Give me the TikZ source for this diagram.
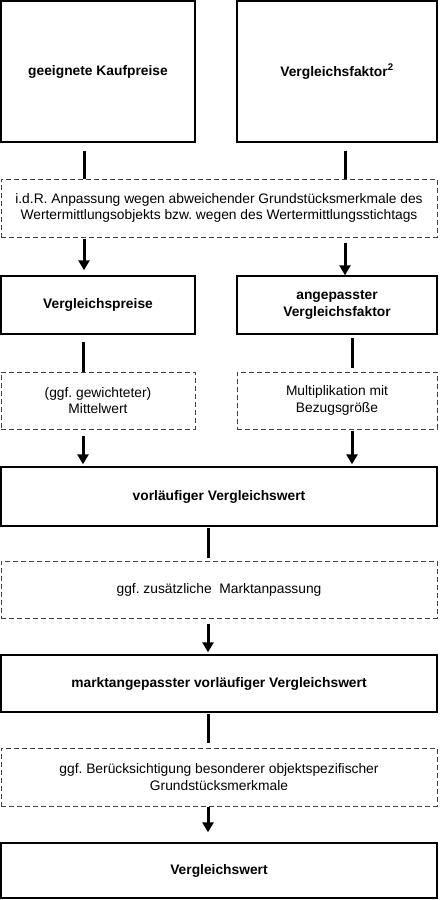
\documentclass[tikz,border=0pt]{standalone}
\usepackage{fontspec}
\setmainfont{Liberation Sans}
\usetikzlibrary{arrows.meta}
\begin{document}
\frenchspacing
\begin{tikzpicture}[x=1pt,y=-1pt,
  solidbox/.style={draw=black,line width=1.4pt,rectangle,inner sep=0pt,align=center,
    font=\fontsize{13.8}{16.5}\selectfont\bfseries},
  dashbox/.style={draw=black!75,line width=1pt,dash pattern=on 5pt off 3pt,rectangle,inner sep=0pt,align=center,
    font=\fontsize{13.8}{16.5}\selectfont},
  thickline/.style={line width=3pt},
  thickarrow/.style={line width=3pt,-{Triangle[width=11pt,length=10pt]}}]
\useasboundingbox (0,0) rectangle (442,900);
\node[solidbox,minimum width=194pt,minimum height=141pt] (A) at (98,71.5) {geeignete Kaufpreise};
\node[solidbox,minimum width=200pt,minimum height=141pt] (B) at (337,71.5) {Vergleichsfaktor\textsuperscript{2}};
\node[dashbox,minimum width=436pt,minimum height=58pt] (D1) at (219,208) {i.d.R. Anpassung wegen abweichender Grundstücksmerkmale des\\Wertermittlungsobjekts bzw. wegen des Wertermittlungsstichtags};
\node[solidbox,minimum width=194pt,minimum height=58pt] (C) at (98,305) {Vergleichspreise};
\node[solidbox,minimum width=200pt,minimum height=58pt] (E) at (337,305) {angepasster\\Vergleichsfaktor};
\node[dashbox,minimum width=194pt,minimum height=57pt] (D2) at (98,400.5) {(ggf. gewichteter)\\Mittelwert};
\node[dashbox,minimum width=200pt,minimum height=57pt] (D3) at (337,400.5) {Multiplikation mit\\Bezugsgröße};
\node[solidbox,minimum width=436pt,minimum height=59pt] (F) at (219,496.5) {vorläufiger Vergleichswert};
\node[dashbox,minimum width=436pt,minimum height=57pt] (D4) at (219,589.5) {ggf. zusätzliche\ \ Marktanpassung};
\node[solidbox,minimum width=436pt,minimum height=57pt] (G) at (219,683.5) {marktangepasster vorläufiger Vergleichswert};
\node[dashbox,minimum width=436pt,minimum height=58pt] (D5) at (219,777) {ggf. Berücksichtigung besonderer objektspezifischer\\Grundstücksmerkmale};
\node[solidbox,minimum width=436pt,minimum height=55pt] (H) at (219,870.5) {Vergleichswert};
\coordinate (xL) at (84,0);
\coordinate (xR) at (345,0);
\coordinate (xL2) at (83,0);
\coordinate (xR2) at (352,0);
\coordinate (xM) at (208,0);
% top lines and arrows
\draw[thickline,shorten <=8pt] (A.south -| xL) -- (D1.north -| xL);
\draw[thickline,shorten <=8pt] (B.south -| xR) -- (D1.north -| xR);
\draw[thickarrow,shorten >=5pt,shorten <=1pt] (D1.south -| xL) -- (C.north -| xL);
\draw[thickarrow,shorten >=0pt,shorten <=5pt] (D1.south -| xR) -- (E.north -| xR);
% middle
\draw[thickline,shorten <=7pt] (C.south -| xL2) -- (D2.north -| xL2);
\draw[thickline,shorten <=3pt,shorten >=4pt] (E.south -| xR2) -- (D3.north -| xR2);
\draw[thickarrow,shorten >=2pt,shorten <=6pt] (D2.south -| xL2) -- (F.north -| xL2);
\draw[thickarrow,shorten >=2pt,shorten <=1pt] (D3.south -| xR2) -- (F.north -| xR2);
% lower chain
\draw[thickline,shorten <=1pt,shorten >=3pt] (F.south -| xM) -- (D4.north -| xM);
\draw[thickarrow,shorten >=2pt,shorten <=5pt] (D4.south -| xM) -- (G.north -| xM);
\draw[thickline,shorten <=1pt,shorten >=5pt] (G.south -| xM) -- (D5.north -| xM);
\draw[thickarrow,shorten >=10pt,shorten <=0pt] (D5.south -| xM) -- (H.north -| xM);
\end{tikzpicture}
\end{document}
